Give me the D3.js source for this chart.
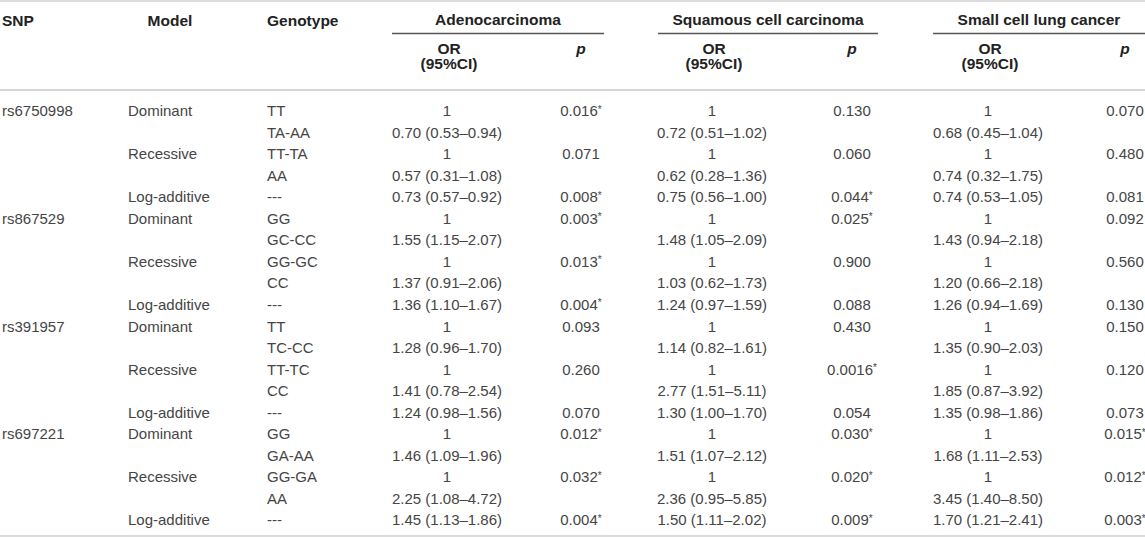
<!doctype html>
<html>
<head>
<meta charset="utf-8">
<script src="https://d3js.org/d3.v7.min.js"></script>
<style>
  body { margin: 0; background: #fff; }
  text { font-family: "Liberation Sans", Arial, sans-serif; }
</style>
</head>
<body>
<svg id="tbl"></svg>
<script>
// table content
var snps = ["rs6750998", "rs867529", "rs391957", "rs697221"];
var models = ["Dominant", "Recessive", "Log-additive"];
var genotypes = [
  ["TT", "TA-AA", "TT-TA", "AA", "---"],
  ["GG", "GC-CC", "GG-GC", "CC", "---"],
  ["TT", "TC-CC", "TT-TC", "CC", "---"],
  ["GG", "GA-AA", "GG-GA", "AA", "---"]
];
var groups = ["Adenocarcinoma", "Squamous cell carcinoma", "Small cell lung cancer"];

// OR (95%CI) per snp: dominant, recessive, log-additive
var adenoOR = [
  ["0.70 (0.53–0.94)", "0.57 (0.31–1.08)", "0.73 (0.57–0.92)"],
  ["1.55 (1.15–2.07)", "1.37 (0.91–2.06)", "1.36 (1.10–1.67)"],
  ["1.28 (0.96–1.70)", "1.41 (0.78–2.54)", "1.24 (0.98–1.56)"],
  ["1.46 (1.09–1.96)", "2.25 (1.08–4.72)", "1.45 (1.13–1.86)"]
];
var adenoP = [
  ["0.016*", "0.071", "0.008*"],
  ["0.003*", "0.013*", "0.004*"],
  ["0.093", "0.260", "0.070"],
  ["0.012*", "0.032*", "0.004*"]
];
var squamOR = [
  ["0.72 (0.51–1.02)", "0.62 (0.28–1.36)", "0.75 (0.56–1.00)"],
  ["1.48 (1.05–2.09)", "1.03 (0.62–1.73)", "1.24 (0.97–1.59)"],
  ["1.14 (0.82–1.61)", "2.77 (1.51–5.11)", "1.30 (1.00–1.70)"],
  ["1.51 (1.07–2.12)", "2.36 (0.95–5.85)", "1.50 (1.11–2.02)"]
];
var squamP = [
  ["0.130", "0.060", "0.044*"],
  ["0.025*", "0.900", "0.088"],
  ["0.430", "0.0016*", "0.054"],
  ["0.030*", "0.020*", "0.009*"]
];
var sclcOR = [
  ["0.68 (0.45–1.04)", "0.74 (0.32–1.75)", "0.74 (0.53–1.05)"],
  ["1.43 (0.94–2.18)", "1.20 (0.66–2.18)", "1.26 (0.94–1.69)"],
  ["1.35 (0.90–2.03)", "1.85 (0.87–3.92)", "1.35 (0.98–1.86)"],
  ["1.68 (1.11–2.53)", "3.45 (1.40–8.50)", "1.70 (1.21–2.41)"]
];
var sclcP = [
  ["0.070", "0.480", "0.081"],
  ["0.092", "0.560", "0.130"],
  ["0.150", "0.120", "0.073"],
  ["0.015*", "0.012*", "0.003*"]
];

var W = 1145, H = 537;
var svg = d3.select("#tbl").attr("width", W).attr("height", H);

var ors = [adenoOR, squamOR, sclcOR];
var ps = [adenoP, squamP, sclcP];

// flatten into rows
var rows = [];
snps.forEach(function(s, i) {
  var g = genotypes[i];
  rows.push({snp: s, model: models[0], geno: g[0], or: ["1", "1", "1"], p: ps.map(function(a) { return a[i][0]; })});
  rows.push({snp: "", model: "", geno: g[1], or: ors.map(function(a) { return a[i][0]; }), p: ["", "", ""]});
  rows.push({snp: "", model: models[1], geno: g[2], or: ["1", "1", "1"], p: ps.map(function(a) { return a[i][1]; })});
  rows.push({snp: "", model: "", geno: g[3], or: ors.map(function(a) { return a[i][1]; }), p: ["", "", ""]});
  rows.push({snp: "", model: models[2], geno: g[4], or: ors.map(function(a) { return a[i][2]; }), p: ps.map(function(a) { return a[i][2]; })});
});

var y = d3.scaleLinear().domain([0, rows.length - 1]).range([111, 520]);
// group column layout
var gStart = d3.scaleOrdinal().domain(groups).range([392, 658, 933]);
var gEnd = d3.scaleOrdinal().domain(groups).range([604, 878, 1145]);
var orX = d3.scaleOrdinal().domain(groups).range([449, 714, 990]);
var pX = d3.scaleOrdinal().domain(groups).range([581, 852, 1125]);

// rules
svg.append("line").attr("x1", 0).attr("x2", W).attr("y1", 1).attr("y2", 1)
  .attr("stroke", "#dcdcdc").attr("stroke-width", 2);
svg.append("line").attr("x1", 0).attr("x2", W).attr("y1", 90).attr("y2", 90)
  .attr("stroke", "#d6d6d6").attr("stroke-width", 2);
svg.append("line").attr("x1", 0).attr("x2", W).attr("y1", 536).attr("y2", 536)
  .attr("stroke", "#dcdcdc").attr("stroke-width", 2);

var head = svg.append("g").attr("font-weight", "bold").attr("fill", "#222").attr("font-size", "15.5px");
head.append("text").attr("x", 2).attr("y", 21).attr("dy", "0.35em").text("SNP");
head.append("text").attr("x", 170).attr("y", 21).attr("dy", "0.35em").attr("text-anchor", "middle").text("Model");
head.append("text").attr("x", 267).attr("y", 21).attr("dy", "0.35em").text("Genotype");

groups.forEach(function(g) {
  var x0 = gStart(g), x1 = gEnd(g);
  head.append("text").attr("x", (x0 + x1) / 2).attr("y", 20).attr("dy", "0.35em")
    .attr("text-anchor", "middle").text(g);
  svg.append("line").attr("x1", x0).attr("x2", x1).attr("y1", 33.5).attr("y2", 33.5)
    .attr("stroke", "#555").attr("stroke-width", 1.5);
  head.append("text").attr("x", orX(g)).attr("y", 49).attr("dy", "0.35em")
    .attr("text-anchor", "middle").text("OR");
  head.append("text").attr("x", orX(g)).attr("y", 64).attr("dy", "0.35em")
    .attr("text-anchor", "middle").text("(95%CI)");
  head.append("text").attr("x", pX(g)).attr("y", 49).attr("dy", "0.35em")
    .attr("text-anchor", "middle").attr("font-style", "italic").text("p");
});

var body = svg.append("g").attr("fill", "#454545").attr("font-size", "15px");
var row = body.selectAll("g.row").data(rows).enter().append("g").attr("class", "row")
  .attr("transform", function(d, i) { return "translate(0," + y(i) + ")"; });

row.append("text").attr("x", 2).attr("dy", "0.35em").text(function(d) { return d.snp; });
row.append("text").attr("x", 128).attr("dy", "0.35em").text(function(d) { return d.model; });
row.append("text").attr("x", 267).attr("dy", "0.35em").text(function(d) { return d.geno; });

groups.forEach(function(g, k) {
  row.append("text").attr("x", orX(g) - 2).attr("dy", "0.35em").attr("text-anchor", "middle")
    .text(function(d) { return d.or[k]; });
  var pt = row.append("text").attr("x", pX(g)).attr("dy", "0.35em").attr("text-anchor", "middle");
  pt.append("tspan").text(function(d) { return d.p[k].replace("*", ""); });
  pt.append("tspan").attr("font-size", "10px").attr("dy", "-0.35em")
    .text(function(d) { return d.p[k].indexOf("*") >= 0 ? "*" : ""; });
});
</script>
</body>
</html>
